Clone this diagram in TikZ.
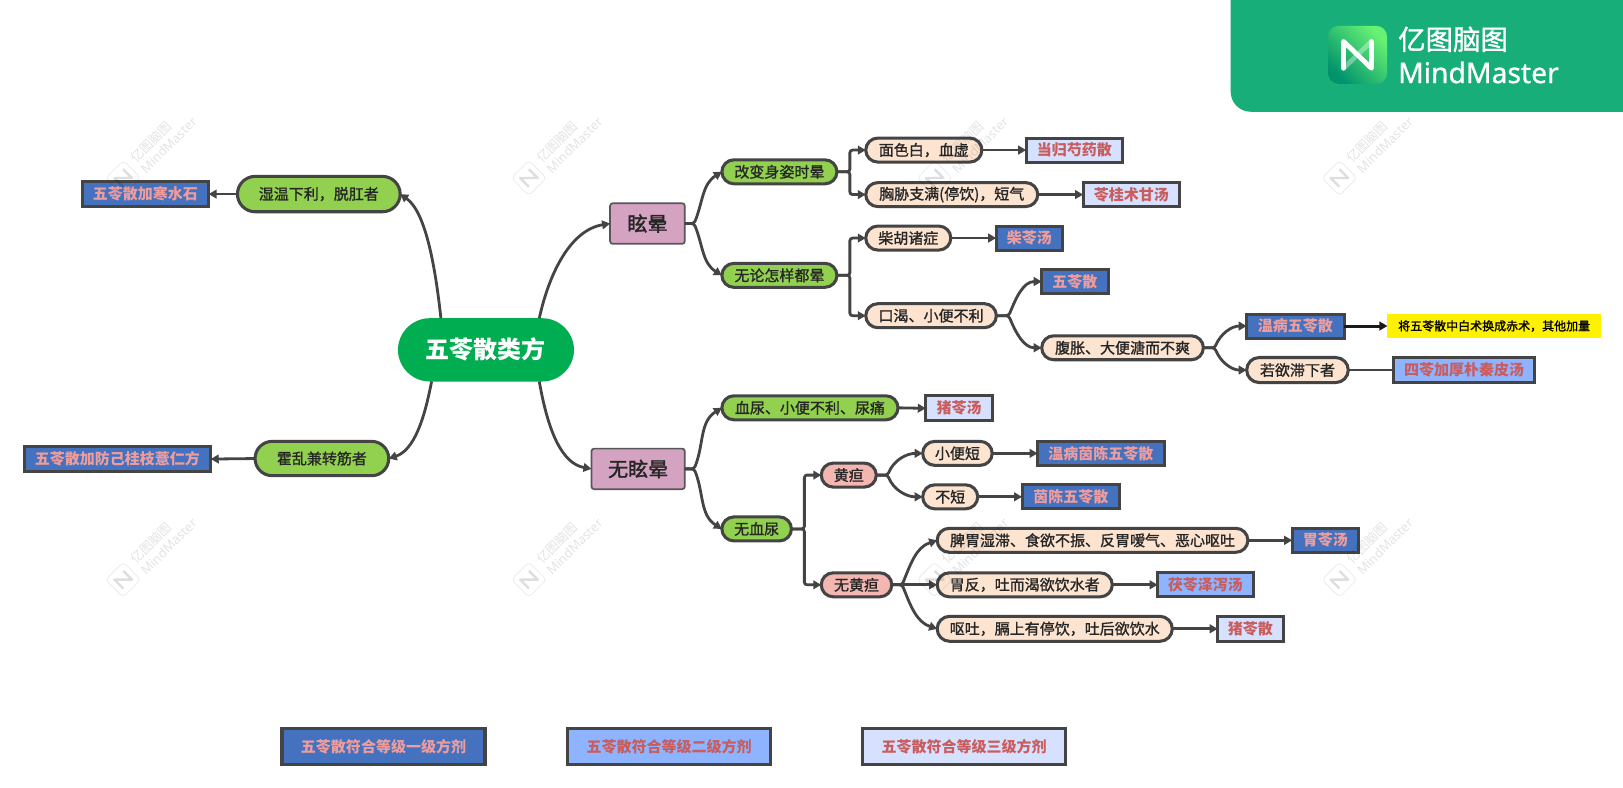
\documentclass[tikz,border=0pt]{standalone}
\usepackage{fontspec}
\usetikzlibrary{arrows.meta,shapes.misc,calc}
\setmainfont{Noto Sans CJK SC}
\newfontfamily\latinf{Noto Sans}
\newfontfamily\latinmed[FakeBold=1]{Noto Sans}
\newfontfamily\medf[FakeBold=1.2]{Noto Sans CJK SC}
\newfontfamily\headf[FakeBold=1.8]{Noto Sans CJK SC}
\definecolor{edgec}{HTML}{444444}
\definecolor{rootc}{HTML}{00AD50}
\definecolor{mauvec}{HTML}{D5A3C2}
\definecolor{greenc}{HTML}{92D14F}
\definecolor{peachc}{HTML}{FCE4D0}
\definecolor{pinkc}{HTML}{F4B6B0}
\definecolor{boxac}{HTML}{4472BE}
\definecolor{boxbc}{HTML}{8FB4FF}
\definecolor{boxcc}{HTML}{D6E0FF}
\definecolor{pinktext}{HTML}{EE9C9C}
\definecolor{redtext}{HTML}{C95C5C}
\definecolor{logoc}{HTML}{18AE7A}
\tikzset{
  x=0.7763pt,y=0.7763pt,
  basenode/.style={inner sep=0pt,outer sep=0pt,align=center,font=\fontsize{11.25}{13}\medf,text=black!85},
  rootnode/.style={basenode,rectangle,rounded corners=24pt,fill=rootc,text=white,font=\fontsize{18}{22}\bfseries},
  mauvenode/.style={basenode,rectangle,rounded corners=2pt,draw=edgec!90,line width=1.3pt,fill=mauvec,font=\fontsize{15}{18}\headf},
  pillg/.style={basenode,rounded rectangle,draw=edgec,line width=2.3pt,fill=greenc},
  pillp/.style={basenode,rounded rectangle,draw=edgec,line width=2.3pt,fill=peachc},
  pillr/.style={basenode,rounded rectangle,draw=edgec,line width=2.3pt,fill=pinkc},
  boxa/.style={basenode,rectangle,draw=edgec,line width=2.3pt,fill=boxac,text=pinktext,font=\fontsize{11.25}{13}\bfseries},
  boxb/.style={basenode,rectangle,draw=edgec,line width=2.3pt,fill=boxbc,text=redtext,font=\fontsize{11.25}{13}\bfseries},
  boxc/.style={basenode,rectangle,draw=edgec,line width=2.3pt,fill=boxcc,text=redtext,font=\fontsize{11.25}{13}\bfseries},
  notenode/.style={basenode,rectangle,fill=yellow,text=black,font=\fontsize{9}{12}\medf},
  conn/.style={draw=edgec,line width=2.1pt,rounded corners=2pt,-{Triangle[length=6pt,width=6.5pt]}},
  plainconn/.style={draw=edgec,line width=2.1pt},
  noteconn/.style={draw=black!90,line width=2.2pt,-{Triangle[length=6pt,width=6.5pt]}},
  wmtext/.style={text=black,text opacity=.11,inner sep=0pt,rotate=45},
}
\newcommand{\nd}[7]{%
  \pgfmathsetmacro\ndcx{(#3+#4)/2}\pgfmathsetmacro\ndcy{-(#5+#6)/2}%
  \pgfmathsetmacro\ndw{(#4-#3)*0.7763-2.2}\pgfmathsetmacro\ndh{(#6-#5)*0.7763-2.2}%
  \node[#1,minimum width=\ndw pt,minimum height=\ndh pt] (#2) at (\ndcx,\ndcy) {#7};}
\newcommand{\elbow}[2]{\draw[conn] (#1.east) -- ++(12.5,0) |- (#2.west);}
\newcommand{\bup}[4][0]{\pgfmathsetmacro\inang{180+#1}\draw[conn] (#2.east) -- ++(#4,0) to[out=68,in=\inang] (#3.west);}
\newcommand{\bdown}[4][0]{\pgfmathsetmacro\inang{180-#1}\draw[conn] (#2.east) -- ++(#4,0) to[out=-68,in=\inang] (#3.west);}
\newcommand{\str}[2]{\draw[conn] (#1.east) -- (#2.west);}
\begin{document}
\begin{tikzpicture}
\useasboundingbox (0,0) rectangle (1568,-761.3);
\fill[white] (0,0) rectangle (1568,-761.3);
% logo
\fill[logoc] (1189,0) [rounded corners=15pt] -- (1189,-108) [sharp corners] -- (1568,-108) -- (1568,0) -- cycle;
\shade[rounded corners=8pt,left color=green!55!white!90!teal,right color=teal!85!green,shading angle=-45] (1283,-25) rectangle (1340,-81);
\draw[white,opacity=.35,line width=3.6pt] (1298,-66) -- (1325,-40);
\draw[white,line width=3.6pt,line join=round,line cap=round] (1298,-66) -- (1298,-40) -- (1325,-66) -- (1325,-40);
\node[anchor=west,inner sep=0pt,text=white,font=\fontsize{20.6}{24}\medf] (logoz) at (1350.5,-38) {亿图脑图};
\node[anchor=west,inner sep=0pt,text=white,font=\fontsize{21.2}{24}\latinmed] (logol) at (1350.5,-70) {MindMaster};
% nodes
\nd{rootnode}{root}{383}{556}{306}{370}{五苓散类方}
\nd{mauvenode}{xy}{588}{663}{195}{237}{眩晕}
\nd{mauvenode}{wxy}{570}{663}{432}{474}{无眩晕}
\nd{pillg}{gb}{696}{810}{153}{179}{改变身姿时晕}
\nd{pillg}{wl}{696}{810}{253}{279}{无论怎样都晕}
\nd{pillp}{ms}{835}{950}{132}{158}{面色白，血虚}
\nd{pillp}{xx}{835}{1004}{175}{201}{胸胁支满(停饮)，短气}
\nd{boxc}{dg}{990}{1086}{132}{158}{当归芍药散}
\nd{boxc}{lg}{1045}{1141}{175}{201}{苓桂术甘汤}
\nd{pillp}{ch}{835}{920}{217}{243}{柴胡诸症}
\nd{boxa}{cl}{961}{1028}{217}{243}{柴苓汤}
\nd{pillp}{kk}{835}{964}{292}{318}{口渴、小便不利}
\nd{boxa}{wls}{1005}{1072}{259}{285}{五苓散}
\nd{pillp}{fz}{1005}{1164}{323}{349}{腹胀、大便溏而不爽}
\nd{boxa}{wb}{1203}{1300}{302}{328}{温病五苓散}
\nd{pillp}{ry}{1203}{1304}{344}{371}{若欲滞下者}
\nd{boxb}{sl}{1345}{1484}{344}{371}{四苓加厚朴秦皮汤}
\nd{notenode}{note}{1339}{1548}{302}{328}{将五苓散中白术换成赤术，其他加量}
\nd{pillg}{xn}{696}{869}{381}{407}{血尿、小便不利、尿痛}
\nd{boxc}{zl}{893}{960}{381}{408}{猪苓汤}
\nd{pillg}{wxn}{696}{766}{498}{524}{无血尿}
\nd{pillr}{hd}{792}{848}{446}{472}{黄疸}
\nd{pillr}{whd}{792}{863}{552}{578}{无黄疸}
\nd{pillp}{xb}{890}{960}{425}{451}{小便短}
\nd{boxa}{wy}{1001}{1126}{425}{451}{温病茵陈五苓散}
\nd{pillp}{bd}{890}{946}{467}{493}{不短}
\nd{boxa}{yc}{986}{1083}{467}{493}{茵陈五苓散}
\nd{pillp}{pw}{904}{1207}{509}{535}{脾胃湿滞、食欲不振、反胃嗳气、恶心呕吐}
\nd{boxa}{wl2}{1247}{1314}{509}{535}{胃苓汤}
\nd{pillp}{wf}{904}{1076}{552}{578}{胃反，吐而渴欲饮水者}
\nd{boxb}{fl}{1117}{1212}{552}{578}{茯苓泽泻汤}
\nd{pillp}{ot}{904}{1134}{594}{621}{呕吐，膈上有停饮，吐后欲饮水}
\nd{boxc}{zs}{1175}{1241}{594}{621}{猪苓散}
\nd{pillg}{sw}{228}{388}{169}{206}{湿温下利，脱肛者}
\nd{boxa}{hs}{78}{203}{174}{201}{五苓散加寒水石}
\nd{pillg}{hl}{245}{377}{425}{461}{霍乱兼转筋者}
\nd{boxa}{ff}{22}{205}{430}{457}{五苓散加防己桂枝薏仁方}
\nd{boxa}{lega}{271}{470}{702}{740}{五苓散符合等级一级方剂}
\nd{boxb}{legb}{547}{746}{702}{740}{五苓散符合等级二级方剂}
\nd{boxc}{legc}{832}{1031}{702}{740}{五苓散符合等级三级方剂}
% root connectors
\draw[conn] ([xshift=40pt]root.north) .. controls (531,-262) and (552,-222) .. (xy.west);
\draw[conn] ([xshift=40pt]root.south) .. controls (530,-420) and (544,-448) .. (wxy.west);
\draw[conn] ([xshift=-33.8pt]root.north) .. controls (421,-262) and (412,-205) .. (sw.east);
\draw[conn] ([xshift=-40.8pt]root.south) .. controls (410,-405) and (400,-435) .. (hl.east);
\draw[conn] (sw.west) -- (hs.east);
\draw[conn] (hl.west) -- (ff.east);
% branches
\bup[32]{xy}{gb}{9}
\bdown[32]{xy}{wl}{9}
\elbow{gb}{ms}
\elbow{gb}{xx}
\elbow{wl}{ch}
\elbow{wl}{kk}
\str{ms}{dg}
\str{xx}{lg}
\str{ch}{cl}
\bup{kk}{wls}{12}
\bdown{kk}{fz}{12}
\bup{fz}{wb}{11}
\bdown{fz}{ry}{11}
\draw[noteconn] (wb.east) -- (note.west);
\draw[plainconn] (ry.east) -- (sl.west);
\bup[32]{wxy}{xn}{9}
\bdown[32]{wxy}{wxn}{9}
\str{xn}{zl}
\elbow{wxn}{hd}
\elbow{wxn}{whd}
\bup{hd}{xb}{11}
\bdown{hd}{bd}{11}
\str{xb}{wy}
\str{bd}{yc}
\bup[18]{whd}{pw}{10}
\str{whd}{wf}
\bdown[18]{whd}{ot}{10}
\str{pw}{wl2}
\str{wf}{fl}
\str{ot}{zs}
% watermarks, laid over the diagram
\foreach \wx/\wy/\wn in {119/-172/a,511/-172/b,903/-172/c,1294/-172/d,119/-560/e,511/-560/f,903/-560/g,1294/-560/h}{
  \begin{scope}[shift={(\wx,\wy)},rotate=45]
    \draw[black,opacity=.08,line width=0.6pt,rounded corners=3pt] (-12,-12) rectangle (12,12);
    \draw[black,opacity=.13,line width=1.8pt,line join=round] (-6,-6) -- (-6,6) -- (6,-6) -- (6,6);
  \end{scope}
  \node[wmtext,font=\fontsize{9.6}{11}\selectfont] (wmz\wn) at (\wx+27,\wy+35) {亿图脑图};
  \node[wmtext,font=\fontsize{9.6}{11}\latinf] (wml\wn) at (\wx+44,\wy+32) {MindMaster};
}
\end{tikzpicture}
\end{document}
